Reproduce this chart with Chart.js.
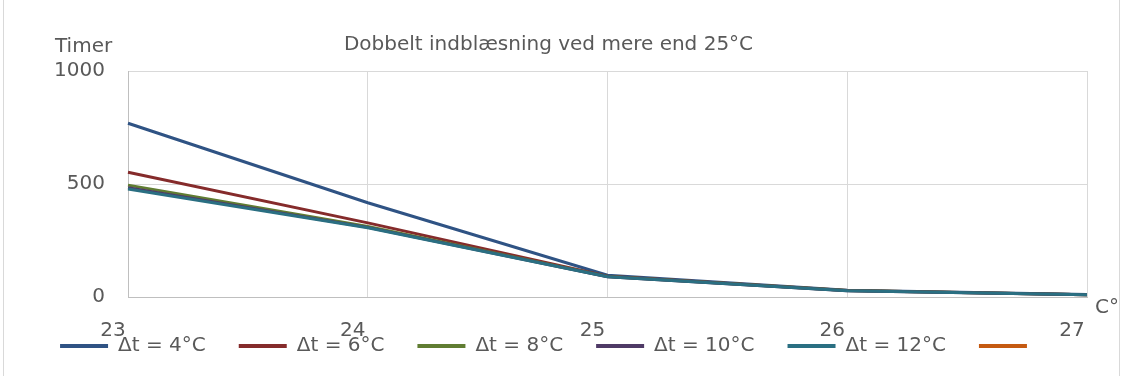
<!DOCTYPE html>
<html>
<head>
<meta charset="utf-8">
<script src="https://cdn.jsdelivr.net/npm/chart.js@4.4.0/dist/chart.umd.min.js"></script>
<style>
html, body { margin: 0; padding: 0; background: #fff; }
#wrap { width: 1123px; height: 376px; }
</style>
</head>
<body>
<div id="wrap"><canvas id="grafica"></canvas></div>
<script>
// data
var titel = 'Dobbelt indblæsning ved mere end 25°C';
var aksetitelY = 'Timer';
var aksetitelX = 'C°';
var temperaturer = ['23', '24', '25', '26', '27'];
var serieNavne = ['Δt = 4°C', 'Δt = 6°C', 'Δt = 8°C', 'Δt = 10°C', 'Δt = 12°C', ''];
var dt4 = [769, 417, 96, 30, 11];
var dt6 = [552, 328, 92, 29, 10];
var dt8 = [495, 312, 91, 29, 10];
var dt10 = [483, 308, 90, 28, 10];
var dt12 = [478, 306, 90, 28, 10];
var tomSerie = [];
var yTicks = [0, 500, 1000];
var farver = ['#2f5384', '#852b2b', '#607d32', '#4f3a66', '#2a6f82', '#c55a11'];

var tekstFarve = '#595959';
var venstrePad = 10;
var legendPad = 33;

Chart.defaults.font.family = '"DejaVu Sans", Verdana, sans-serif';

var serier = [dt4, dt6, dt8, dt10, dt12, tomSerie];
var datasets = [];
for (var i = 0; i < serier.length; i++) {
  datasets.push({
    label: serieNavne[i],
    data: serier[i],
    borderColor: farver[i],
    backgroundColor: farver[i],
    borderWidth: 3,
    pointRadius: 0,
    fill: false,
    tension: 0,
    order: serier.length - i
  });
}

var ekstraTekst = {
  id: 'ekstraTekst',
  afterLayout: function(chart) {
    // Excel lægger legenden op over x-aksens tal
    var lg = chart.legend;
    lg.top = chart.chartArea.bottom + 39 - legendPad;
    lg.bottom = chart.height;
    lg.height = lg.bottom - lg.top;
  },
  beforeDraw: function(chart) {
    var ctx = chart.ctx;
    ctx.save();
    ctx.strokeStyle = '#d9d9d9';
    ctx.lineWidth = 1;
    ctx.strokeRect(3.5, -1, chart.width - 7, chart.height + 2);
    ctx.restore();
  },
  afterDraw: function(chart) {
    var ctx = chart.ctx;
    var area = chart.chartArea;
    ctx.save();
    ctx.fillStyle = tekstFarve;
    ctx.font = '20px "DejaVu Sans"';
    ctx.textBaseline = 'middle';
    ctx.textAlign = 'left';
    ctx.fillText(aksetitelY, area.left - 73, area.top - 24);
    ctx.fillText(aksetitelX, area.right + 8, area.bottom + 11);
    ctx.restore();
  }
};

var ctx = document.getElementById('grafica').getContext('2d');
var chart = new Chart(ctx, {
  type: 'line',
  data: {
    labels: temperaturer,
    datasets: datasets
  },
  options: {
    responsive: true,
    maintainAspectRatio: false,
    animation: false,
    layout: {
      padding: { top: 0, left: venstrePad, right: 36, bottom: 23 }
    },
    plugins: {
      title: {
        display: true,
        text: titel,
        color: tekstFarve,
        font: { size: 20, weight: 'normal' },
        padding: { top: 33, bottom: 14 }
      },
      legend: {
        position: 'bottom',
        maxHeight: 10,
        labels: {
          boxWidth: 48,
          boxHeight: 4,
          padding: legendPad,
          color: tekstFarve,
          font: { size: 20 },
          sort: function(a, b) { return a.datasetIndex - b.datasetIndex; },
          generateLabels: function(chart) {
            var items = Chart.defaults.plugins.legend.labels.generateLabels(chart);
            items.forEach(function(it) {
              it.lineWidth = 0;
              it.fillStyle = farver[it.datasetIndex];
            });
            return items;
          }
        }
      },
      tooltip: { enabled: false }
    },
    scales: {
      x: {
        offset: false,
        grid: {
          color: '#d9d9d9',
          drawTicks: false
        },
        border: { color: '#bfbfbf' },
        ticks: {
          padding: 22,
          labelOffset: -15,
          color: tekstFarve,
          font: { size: 20 },
          maxRotation: 0
        },
        afterFit: function(scale) { scale.height = 46; }
      },
      y: {
        min: 0,
        max: 1000,
        afterBuildTicks: function(scale) {
          scale.ticks = yTicks.map(function(v) { return { value: v }; });
        },
        grid: {
          color: '#d9d9d9',
          drawTicks: false
        },
        border: { color: '#bfbfbf' },
        ticks: {
          padding: 23,
          color: tekstFarve,
          font: { size: 20 },
          callback: function(v) { return String(v); }
        },
        afterFit: function(scale) { scale.width = 128 - venstrePad; }
      }
    }
  },
  plugins: [ekstraTekst]
});
</script>
</body>
</html>
